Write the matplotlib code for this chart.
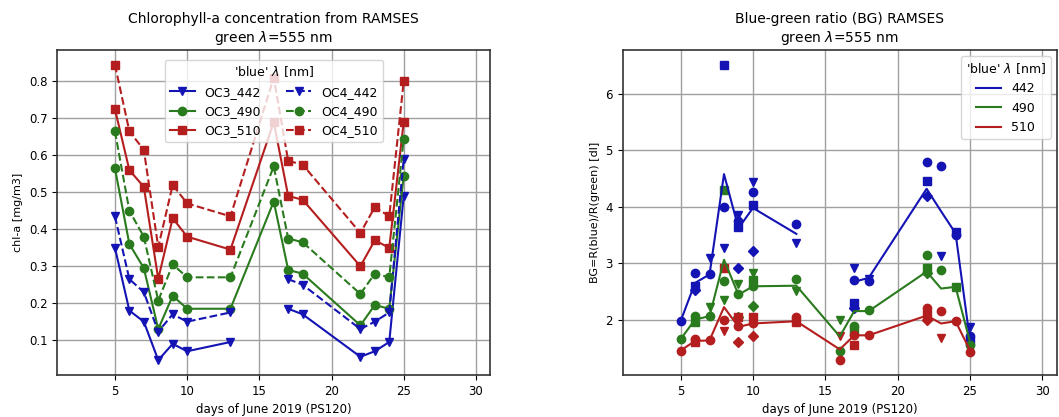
import numpy as np
import matplotlib
matplotlib.use("Agg")
import matplotlib.pyplot as plt

nan = np.nan

days = [5, 6, 7, 8, 9, 10, 13, 16, 17, 18, 22, 23, 24, 25]

# chl-a [mg/m3], OC3 / OC4 algorithms per 'blue' wavelength
oc3_442 = [0.35, 0.18, 0.15, 0.046, 0.09, 0.07, 0.095, nan, 0.185, 0.17, 0.055, 0.07, 0.095, 0.49]
oc4_442 = [0.435, 0.265, 0.23, 0.123, 0.17, 0.15, 0.175, nan, 0.265, 0.25, 0.13, 0.15, 0.175, 0.59]
oc3_490 = [0.565, 0.36, 0.295, 0.13, 0.22, 0.185, 0.185, 0.475, 0.29, 0.28, 0.14, 0.195, 0.185, 0.545]
oc4_490 = [0.665, 0.45, 0.38, 0.207, 0.305, 0.27, 0.27, 0.57, 0.375, 0.365, 0.225, 0.28, 0.27, 0.645]
oc3_510 = [0.725, 0.56, 0.515, 0.266, 0.43, 0.38, 0.345, 0.69, 0.49, 0.48, 0.30, 0.37, 0.35, 0.69]
oc4_510 = [0.845, 0.665, 0.615, 0.352, 0.52, 0.47, 0.435, 0.81, 0.585, 0.575, 0.39, 0.46, 0.435, 0.80]

# blue-green ratio, daily mean lines
bg_442 = [1.97, 2.65, 2.8, 4.58, 3.62, 3.98, 3.52, nan, 2.67, 2.74, 4.32, 3.92, 3.53, 1.62]
bg_490 = [1.65, 2.0, 2.06, 3.06, 2.44, 2.59, 2.6, 1.7, 2.15, 2.15, 2.85, 2.55, 2.58, 1.6]
bg_510 = [1.45, 1.62, 1.63, 2.22, 1.87, 1.93, 1.97, 1.47, 1.72, 1.72, 2.07, 1.93, 1.97, 1.45]

# blue-green ratio, single measurements (one list per marker)
pts_442_v = [nan, nan, 3.1, 3.27, 3.85, 4.44, 3.35, nan, 2.92, 2.72, nan, 3.12, nan, 1.87]
pts_442_o = [1.97, 2.82, 2.8, 4.0, 3.75, 4.27, 3.7, nan, 2.7, 2.68, 4.8, 4.73, 3.5, 1.7]
pts_442_s = [nan, 2.6, nan, 6.52, 3.65, 4.03, nan, nan, 2.3, nan, 4.45, nan, 3.55, 1.62]
pts_442_d = [nan, 2.52, nan, nan, 2.92, 3.21, nan, nan, 2.2, nan, 4.2, nan, nan, nan]
pts_490_v = [nan, nan, 2.23, 2.35, 2.63, 2.82, 2.5, 2.0, nan, nan, nan, nan, nan, nan]
pts_490_o = [1.65, 2.06, 2.06, 2.68, 2.45, 2.6, 2.72, 1.45, 1.88, 2.17, 3.15, 2.88, nan, 1.55]
pts_490_s = [nan, 1.95, nan, 4.3, nan, 2.7, nan, nan, 1.8, nan, 2.92, nan, 2.58, nan]
pts_490_d = [nan, nan, nan, nan, 2.05, 2.24, nan, nan, nan, nan, 2.82, nan, nan, nan]
pts_510_v = [nan, nan, nan, 1.8, nan, nan, nan, 1.7, nan, nan, nan, 1.68, nan, nan]
pts_510_o = [1.44, 1.65, 1.63, 2.0, 1.88, 1.94, 2.05, 1.28, 1.72, 1.72, 2.2, 2.15, 1.97, 1.42]
pts_510_s = [nan, 1.6, nan, 2.92, 2.04, 2.05, 1.95, nan, 1.55, nan, 2.1, nan, nan, nan]
pts_510_d = [nan, nan, nan, nan, 1.6, 1.7, nan, nan, nan, nan, 2.0, nan, nan, nan]

C_BLUE = "#1414b4"
C_GREEN = "#2a7a1e"
C_RED = "#b41e1e"

fig = plt.figure(figsize=(10.59, 4.17), dpi=100)
ax1 = fig.add_axes([0.054, 0.101, 0.409, 0.779])
ax2 = fig.add_axes([0.588, 0.101, 0.410, 0.779])

# --- left: chl-a
ms = 6
ax1.plot(days, oc3_442, "-v", color=C_BLUE, ms=ms, label="OC3_442")
ax1.plot(days, oc3_490, "-o", color=C_GREEN, ms=ms, label="OC3_490")
ax1.plot(days, oc3_510, "-s", color=C_RED, ms=ms, label="OC3_510")
ax1.plot(days, oc4_442, "--v", color=C_BLUE, ms=ms, label="OC4_442")
ax1.plot(days, oc4_490, "--o", color=C_GREEN, ms=ms, label="OC4_490")
ax1.plot(days, oc4_510, "--s", color=C_RED, ms=ms, label="OC4_510")
ax1.set_xlim(1, 31)
ax1.set_xticks([5, 10, 15, 20, 25, 30])
ax1.set_yticks([0.1, 0.2, 0.3, 0.4, 0.5, 0.6, 0.7, 0.8])
ax1.set_xlabel("days of June 2019 (PS120)", fontsize=8.5)
ax1.set_ylabel("chl-a [mg/m3]", fontsize=8)
ax1.set_title("Chlorophyll-a concentration from RAMSES\ngreen $\\lambda$=555 nm", fontsize=10)
ax1.legend(title="'blue' $\\lambda$ [nm]", ncol=2, loc="upper center",
           fontsize=9, title_fontsize=9, bbox_to_anchor=(0.5, 0.99))

# --- right: blue-green ratio
for vals, mk in [(pts_442_v, "v"), (pts_442_o, "o"), (pts_442_s, "s"), (pts_442_d, "D")]:
    ax2.plot(days, vals, mk, color=C_BLUE, ms=6 if mk != "D" else 5)
for vals, mk in [(pts_490_v, "v"), (pts_490_o, "o"), (pts_490_s, "s"), (pts_490_d, "D")]:
    ax2.plot(days, vals, mk, color=C_GREEN, ms=6 if mk != "D" else 5)
for vals, mk in [(pts_510_v, "v"), (pts_510_o, "o"), (pts_510_s, "s"), (pts_510_d, "D")]:
    ax2.plot(days, vals, mk, color=C_RED, ms=6 if mk != "D" else 5)
ax2.plot(days, bg_442, "-", color=C_BLUE, lw=1.5, label="442")
ax2.plot(days, bg_490, "-", color=C_GREEN, lw=1.5, label="490")
ax2.plot(days, bg_510, "-", color=C_RED, lw=1.5, label="510")
ax2.set_xlim(1, 31)
ax2.set_xticks([5, 10, 15, 20, 25, 30])
ax2.set_yticks([2, 3, 4, 5, 6])
ax2.set_xlabel("days of June 2019 (PS120)", fontsize=8.5)
ax2.set_ylabel("BG=R(blue)/R(green) [dl]", fontsize=8)
ax2.set_title("Blue-green ratio (BG) RAMSES\ngreen $\\lambda$=555 nm", fontsize=10)
ax2.legend(title="'blue' $\\lambda$ [nm]", loc="upper right", fontsize=9, title_fontsize=9)

for ax in (ax1, ax2):
    ax.grid(True, color="#a0a0a0", lw=1.0)
    ax.tick_params(labelsize=8.5)
    for sp in ax.spines.values():
        sp.set_color("#333333")
        sp.set_linewidth(1.2)

fig.savefig("out.png", dpi=100)
